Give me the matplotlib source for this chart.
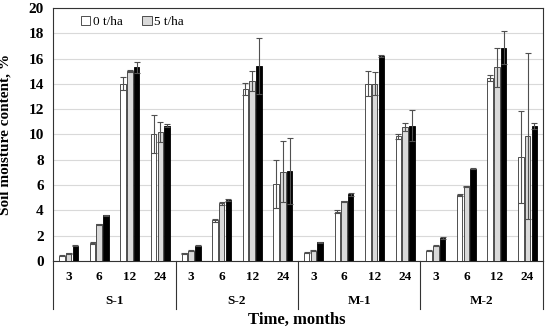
import matplotlib.pyplot as plt
import matplotlib.transforms as mtransforms
import numpy as np

plt.rcParams['font.family'] = 'Liberation Serif'

sites = ['S-1', 'S-2', 'M-1', 'M-2']
months = ['3', '6', '12', '24']

# mean soil moisture, ordered site by site, months 3/6/12/24
dose_0 = [0.4, 1.4, 14.0, 10.0,
          0.6, 3.2, 13.6, 6.1,
          0.65, 3.9, 14.0, 9.85,
          0.8, 5.2, 14.45, 8.2]
dose_5 = [0.6, 2.9, 15.0, 10.2,
          0.8, 4.55, 14.2, 7.05,
          0.8, 4.7, 14.0, 10.6,
          1.2, 5.9, 15.3, 9.85]
dose_10 = [1.2, 3.6, 15.3, 10.7,
           1.2, 4.8, 15.4, 7.1,
           1.45, 5.25, 16.2, 10.7,
           1.8, 7.3, 16.85, 10.65]

err_0 = [0.05, 0.05, 0.5, 1.5,
         0.05, 0.1, 0.5, 1.9,
         0.05, 0.1, 1.0, 0.2,
         0.05, 0.1, 0.25, 3.65]
err_5 = [0.05, 0.05, 0.1, 0.8,
         0.05, 0.1, 0.8, 2.4,
         0.05, 0.05, 0.9, 0.3,
         0.05, 0.05, 1.55, 6.55]
err_10 = [0.05, 0.05, 0.45, 0.1,
          0.05, 0.1, 2.2, 2.6,
          0.05, 0.1, 0.05, 1.25,
          0.05, 0.05, 1.3, 0.25]

fig = plt.figure(figsize=(5.5, 3.31), dpi=100)
ax = fig.add_axes([0.097, 0.212, 0.89, 0.764])

x = np.arange(len(dose_0)) + 0.5
w = 0.18
step = 0.22
err_kw = dict(ecolor='#505050', elinewidth=0.8, capsize=2.5, capthick=0.8)

ax.bar(x - step, dose_0, w, yerr=err_0, color='white', edgecolor='#333333',
       linewidth=0.6, error_kw=err_kw, label='0 t/ha', zorder=3)
ax.bar(x, dose_5, w, yerr=err_5, color='#d9d9d9', edgecolor='#333333',
       linewidth=0.6, error_kw=err_kw, label='5 t/ha', zorder=3)
ax.bar(x + step, dose_10, w, yerr=err_10, color='black', edgecolor='black',
       linewidth=0.6, error_kw=err_kw, zorder=3)

ax.set_xlim(0, len(dose_0))
ax.set_ylim(0, 20)
ax.set_yticks(np.arange(0, 21, 2))
ax.yaxis.grid(True, color='#d9d9d9', linewidth=0.8, zorder=0)
ax.set_axisbelow(True)
for side in ax.spines.values():
    side.set_color('#333333')
    side.set_linewidth(0.8)
ax.tick_params(axis='y', length=0, pad=7, labelsize=11)
for lab in ax.get_yticklabels():
    lab.set_fontweight('bold')
ax.set_xticks([])

ax.set_ylabel('Soil moisture content, %', fontsize=11, fontweight='bold')
ax.yaxis.set_label_coords(-0.085, 0.5)

# two-level category axis
trans = mtransforms.blended_transform_factory(ax.transData, ax.transAxes)
for i, xi in enumerate(x):
    ax.text(xi, -0.065, months[i % 4], transform=trans, ha='center',
            va='center', fontsize=9.5, fontweight='bold')
for g, site in enumerate(sites):
    ax.text(g * 4 + 2, -0.16, site, transform=trans, ha='center',
            va='center', fontsize=9.5, fontweight='bold')
for g in range(len(sites) + 1):
    ax.plot([g * 4, g * 4], [0, -0.19], transform=trans, color='#333333',
            linewidth=0.8, clip_on=False)

fig.text(0.54, 0.035, 'Time, months', ha='center', va='center',
         fontsize=12, fontweight='bold')

ax.legend(loc='upper left', ncol=2, frameon=False, fontsize=9.5,
          handlelength=0.7, handleheight=0.7, handletextpad=0.2,
          columnspacing=1.5, borderaxespad=0.2, bbox_to_anchor=(0.04, 1.0))

fig.savefig('out.png', dpi=100)
